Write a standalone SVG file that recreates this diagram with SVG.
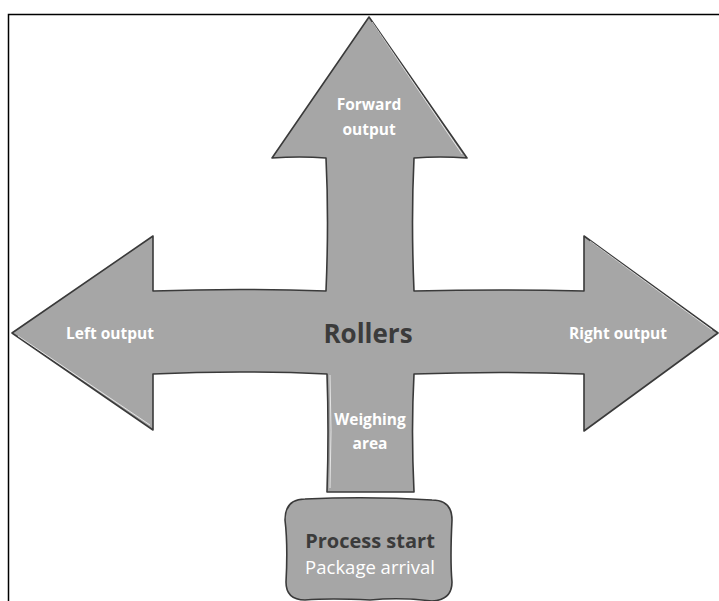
<svg xmlns="http://www.w3.org/2000/svg" width="719" height="601" viewBox="0 0 719 601">
  <style>
    .frame { fill: none; stroke: #000; stroke-width: 1.5; }
    .shape { fill: #a6a6a6; stroke: #3a3a3a; stroke-width: 1.6; stroke-linejoin: round; }
    .sketch { fill: none; stroke: #ffffff; stroke-width: 1; opacity: 0.7; }
    .lbl { font-family: "Open Sans", "Noto Sans", sans-serif; font-weight: 700; fill: #ffffff; text-anchor: middle; font-size: 15.5px; }
    .title { font-family: "Open Sans", "Noto Sans", sans-serif; font-weight: 700; fill: #3b3b3b; text-anchor: middle; }
    .sub { font-family: "Open Sans", "Noto Sans", sans-serif; font-weight: 400; fill: #ffffff; text-anchor: middle; font-size: 18.5px; }
  </style>
  <rect width="719" height="601" fill="#ffffff"/>
  <g id="frame">
    <path class="frame" d="M8.5 601 V14.5 H719"/>
  </g>
  <g id="rollers">
    <path class="shape" d="M369 17 L467 158 Q440 156 414 158 Q411 220 414 291 Q500 289 584 291 L584 236 L718 333 L584 431 L584 374 Q500 371 414 374 Q411 430 414 492 L327 492 Q329 430 327 374 Q240 370 153 374 L153 430 L12 333 L153 236 L153 291 Q240 288 326 291 Q329 220 326 158 Q300 156 272 158 Z"/>
    <path class="sketch" d="M372 22 L462 154 M590 241 L712 330 M18 336 L150 425 M330 375 Q332 430 330 488"/>
    <text class="title" x="368" y="343" font-size="26">Rollers</text>
  </g>
  <g id="forward-output">
    <text class="lbl" x="369" y="110">Forward</text>
    <text class="lbl" x="369" y="135">output</text>
  </g>
  <g id="left-output">
    <text class="lbl" x="110" y="339">Left output</text>
  </g>
  <g id="right-output">
    <text class="lbl" x="618" y="339">Right output</text>
  </g>
  <g id="weighing-area">
    <text class="lbl" x="370" y="425">Weighing</text>
    <text class="lbl" x="370" y="449">area</text>
  </g>
  <g id="process-start">
    <path class="shape" d="M305 499 Q370 496 432 500 Q452 500 452 520 Q450 560 452 582 Q452 600 432 601 Q400 597 370 600 Q330 598 305 600 Q286 600 286 582 Q288 545 285 520 Q285 499 305 499 Z"/>
    <text class="title" x="370" y="548" font-size="20">Process start</text>
    <text class="sub" x="370" y="574">Package arrival</text>
  </g>
</svg>
